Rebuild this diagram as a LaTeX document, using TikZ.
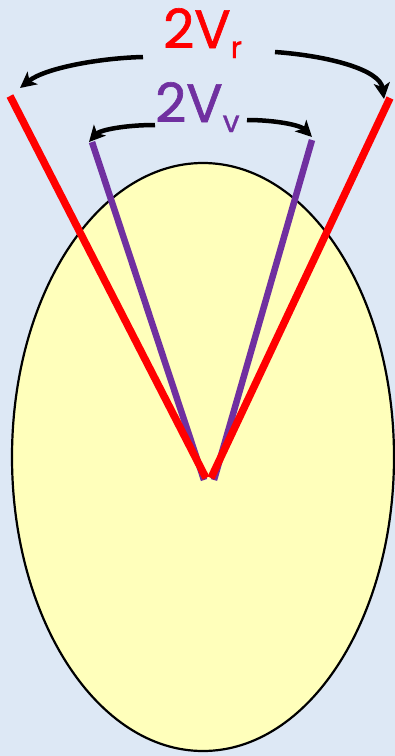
\documentclass[tikz,border=0pt]{standalone}
\usepackage{fontspec}
\setmainfont{Poppins}
\newfontfamily\lblfont[FakeBold=1.2]{Poppins}
\usepackage{xcolor}
\usetikzlibrary{arrows.meta, positioning, calc}

\definecolor{bgblue}{HTML}{DDE8F5}
\definecolor{eyellow}{HTML}{FFFFBB}
\definecolor{vpurple}{HTML}{7030A0}
\definecolor{rred}{HTML}{FF0000}

\begin{document}
\begin{tikzpicture}[
      x=1pt, y=-1pt,
      redray/.style = {draw=rred, line width=7.5pt},
      purpray/.style = {draw=vpurple, line width=6.5pt},
      lbl/.style = {inner sep=0pt, anchor=base west, font=\lblfont},
      arr/.style = {-{Stealth[length=16pt, width=16pt, inset=4pt]},
                    line width=4.5pt, black},
    ]
    \fill[bgblue] (0,0) rectangle (395,756);
    \useasboundingbox (0,0) rectangle (395,756);
    \draw[fill=eyellow, line width=2.2pt] (203,457) ellipse [x radius=191, y radius=294];
    % rays
    \coordinate (vl) at (92,142);
    \coordinate (vrt) at (312,140);
    \coordinate (rl) at (10,96);
    \coordinate (rr) at (390,98);
    \draw[purpray] (vl) -- (204,480);
    \draw[purpray] (vrt) -- (214,480);
    \draw[redray] (rl) -- (206,478);
    \draw[redray] (rr) -- (211,478);
    % labels
    \node[lbl, text=rred] (lr) at (163,48)
      {\fontsize{54}{54}\selectfont 2V\raisebox{-10pt}{\fontsize{30}{30}\selectfont r}};
    \node[lbl, text=vpurple] (lv) at (155,122)
      {\fontsize{54}{54}\selectfont 2V\raisebox{-10pt}{\fontsize{30}{30}\selectfont v}};
    \coordinate (lrw) at (143,57);
    \coordinate (lre) at (275,52);
    \coordinate (lvw) at (155,125);
    \coordinate (lve) at (247,120);
    \draw[arr] (lrw) .. controls (100,58) and (45,68) .. (20,88);
    \draw[arr] (lre) .. controls (330,56) and (380,70) .. (384,99);
    \draw[arr] (lvw) .. controls (125,125) and (100,130) .. (89,142);
    \draw[arr] (lve) .. controls (275,120) and (300,125) .. (312,137);
    \end{tikzpicture}
\end{document}
